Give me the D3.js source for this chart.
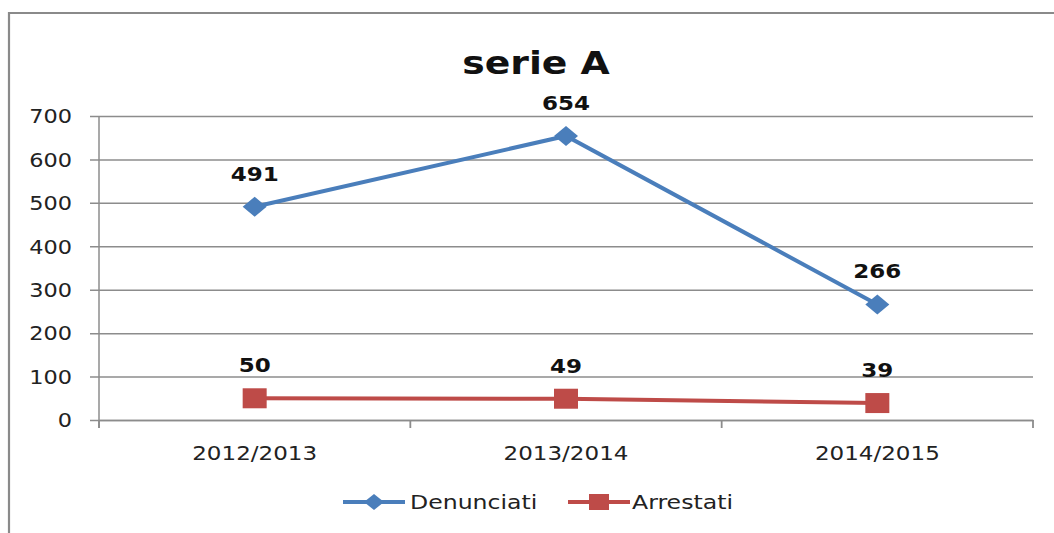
<!DOCTYPE html>
<html><head><meta charset="utf-8">
<script src="https://cdn.jsdelivr.net/npm/d3@7"></script>
<style>body{margin:0;background:#fff}svg{display:block}text{font-family:"DejaVu Sans",Verdana,sans-serif}</style>
</head><body><svg id="c" width="1054" height="533"></svg>
<script>
const categories = ["2012/2013","2013/2014","2014/2015"];
const denunciati = [491,654,266];
const arrestati = [50,49,39];
const yTicks = [0,100,200,300,400,500,600,700];
const seriesNames = ["Denunciati","Arrestati"];
const colors = ["#4A7EBB","#BE4B48"];
const SX = 1.18;

const svg = d3.select("#c");
const W=1054,H=533;
svg.append("rect").attr("width",W).attr("height",H).attr("fill","#fff");
// outer border (top + left)
svg.append("path").attr("d","M9,533 L9,13 L1054,13").attr("fill","none").attr("stroke","#8a8a8a").attr("stroke-width",2.2);

const x0=99,x1=1033,yTop=116,yBot=420;
const x = d3.scaleBand().domain(categories).range([x0,x1]);
const y = d3.scaleLinear().domain([0,700]).range([yBot,yTop]);

function stretch(sel, k){
  const f = k||SX;
  sel.each(function(){
    const w=this.getComputedTextLength();
    d3.select(this).attr("textLength",w*f).attr("lengthAdjust","spacingAndGlyphs");
  });
}

// gridlines and y axis
const yAxis = d3.axisLeft(y).tickValues(yTicks).tickSize(x0-x1).tickSizeOuter(0).tickPadding(0);
const gy = svg.append("g").attr("transform",`translate(${x0},0)`).call(yAxis);
gy.select(".domain").remove();
gy.selectAll(".tick line").attr("stroke","#8c8c8c").attr("stroke-width",1.5).attr("x1",-9).attr("x2",x1-x0);
gy.selectAll(".tick text").attr("x",-27).attr("dy","0.36em").attr("font-size",19).attr("fill","#222").attr("text-anchor","end").call(stretch);
// y axis line
svg.append("line").attr("x1",x0).attr("x2",x0).attr("y1",yTop).attr("y2",yBot+8).attr("stroke","#8c8c8c").attr("stroke-width",1.5);

// x axis
const xAxis = d3.axisBottom(x).tickSize(0).tickPadding(0);
const gx = svg.append("g").attr("transform",`translate(0,${yBot})`).call(xAxis);
gx.select(".domain").attr("stroke","#8c8c8c").attr("stroke-width",1.5);
gx.selectAll(".tick text").attr("y",40).attr("dy",0).attr("font-size",19.5).attr("fill","#222").call(stretch);
const bounds = categories.map(c=>x(c)).concat([x1]);
svg.selectAll(".xt").data(bounds).enter().append("line").attr("x1",d=>d).attr("x2",d=>d).attr("y1",yBot).attr("y2",yBot+8).attr("stroke","#8c8c8c").attr("stroke-width",1.8);

const cx = c=>x(c)+x.bandwidth()/2;
const series=[denunciati,arrestati];
const line=d3.line().x((d,i)=>cx(categories[i])).y(d=>y(d));
series.forEach((vals,si)=>{
  svg.append("path").datum(vals).attr("d",line).attr("fill","none").attr("stroke",colors[si]).attr("stroke-width",4);
  const g=svg.append("g");
  vals.forEach((v,i)=>{
    const px=cx(categories[i]),py=y(v);
    if(si===0){
      g.append("path").attr("d",`M${px},${py-10} L${px+12},${py} L${px},${py+10} L${px-12},${py} Z`).attr("fill",colors[0]);
    } else {
      g.append("rect").attr("x",px-12).attr("y",py-10).attr("width",24).attr("height",20).attr("fill",colors[1]);
    }
    g.append("text").attr("x",px).attr("y",py-26).attr("text-anchor","middle").attr("font-size",19.5).attr("font-weight","bold").attr("fill","#111").text(v).call(stretch);
  });
});

// title
svg.append("text").attr("x",536).attr("y",74).attr("text-anchor","middle").attr("font-size",32).attr("font-weight","bold").attr("fill","#111").text("serie A").call(stretch);

// legend
const leg=[{x:343,tx:410},{x:568,tx:632}];
seriesNames.forEach((n,i)=>{
  const ly=502, lx=leg[i].x;
  svg.append("line").attr("x1",lx).attr("x2",lx+62).attr("y1",ly).attr("y2",ly).attr("stroke",colors[i]).attr("stroke-width",4);
  const mx=lx+31;
  if(i===0) svg.append("path").attr("d",`M${mx},${ly-8} L${mx+10},${ly} L${mx},${ly+8} L${mx-10},${ly} Z`).attr("fill",colors[0]);
  else svg.append("rect").attr("x",mx-10).attr("y",ly-8).attr("width",20).attr("height",16).attr("fill",colors[1]);
  svg.append("text").attr("x",leg[i].tx).attr("y",ly+7).attr("font-size",20).attr("fill","#222").text(n).call(stretch);
});
</script></body></html>
